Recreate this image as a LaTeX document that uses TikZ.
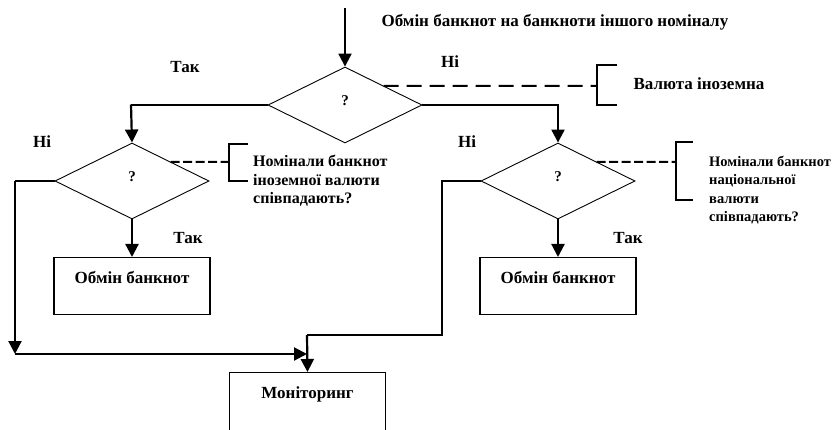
\documentclass[tikz,border=0pt]{standalone}
\usepackage{fontspec}
\setmainfont{Liberation Serif}
\usetikzlibrary{shapes.geometric}
\usetikzlibrary{arrows.meta}

\begin{document}
\begin{tikzpicture}[x=1pt, y=-1pt, font=\bfseries\fontsize{17}{18.5}\selectfont]

		\tikzset{
			question/.style={draw, diamond, line width=0.9pt, minimum width=154pt, minimum height=76pt, inner sep=0pt, text depth=8pt, font=\bfseries\fontsize{15}{18}\selectfont},
			action/.style={draw, line width=1.3pt, minimum width=156pt, inner xsep=0pt, inner ysep=0pt, text height=26pt},
			flow/.style={-{Triangle[length=13pt, width=13pt]}, line width=2.2pt},
			link/.style={line width=1.1pt},
			note/.style={line width=2pt, dash pattern=on 9pt off 3.5pt},
			bracket/.style={line width=1.1pt},
		}

		\useasboundingbox (0,0) rectangle (835,430);
		\clip (0,0) rectangle (835,430);

		\node [anchor=west] (title) at (378,22) {Обмін банкнот на банкноти іншого номіналу};
		\coordinate (start) at (345,8);

		\node [question] (q1) at (345,105) {?};
		\node [question] (q2) at (132,181) {?};
		\node [question] (q3) at (558,181) {?};

		\node [action, text depth=31pt, anchor=north] (swap1) at (132,257) {Обмін банкнот};
		\node [action, text depth=31pt, anchor=north] (swap2) at (558,257) {Обмін банкнот};
		\node [action, text depth=50pt, anchor=north] (monitor) at (307.5,372) {Моніторинг};

		\draw [flow] (start) -- (q1.north);

		% perevirka valyuty
		\draw [link] (q1.west) -- (131,105);
		\draw [flow] (131,104.5) -- (q2.north);
		\draw [link] (q1.east) -- (558,105);
		\draw [flow] (558,104.5) -- (q3.north);

		\draw [flow] (q2.south) -- (swap1.north);
		\draw [flow] (q3.south) -- (swap2.north);

		% do monitoryngu
		\coordinate (lcorner) at (15,181);
		\coordinate (ljoin) at (15,354);
		\coordinate (mjoin) at (307,354);
		\coordinate (rjoin) at (307,335);
		\draw [link] (q2.west) -- (lcorner);
		\draw [flow] (lcorner) -- (ljoin);
		\draw [flow] (15,354) -- (mjoin);
		\draw [link] (q3.west) -- (442,181) -- (442,335) -- (rjoin);
		\draw [flow] (rjoin) -- (monitor.north);

		% prymitky
		\coordinate (n1) at (597,86);
		\coordinate (n2) at (229,162);
		\coordinate (n3) at (676,162);
		\draw [note, dash pattern=on 15pt off 8pt] (q1.north east) -- (n1);
		\draw [note] (q2.north east) -- (n2);
		\draw [note] (q3.north east) -- (n3);
		\draw [bracket] (617,65) -- (597,65) -- (597,105) -- (617,105);
		\draw [bracket] (248,144) -- (229,144) -- (229,181) -- (248,181);
		\draw [bracket] (693,142) -- (676,142) -- (676,200) -- (693,200);

		\node [anchor=west] (valuta) at (630,84) {Валюта іноземна};
		\node [anchor=north west, align=left, inner sep=0pt, font=\bfseries\fontsize{16}{18.5}\selectfont] (nom1) at (253,155) {Номінали банкнот\\іноземної валюти\\співпадають?};
		\node [anchor=north west, align=left, inner sep=0pt, font=\bfseries\fontsize{14.5}{18.3}\selectfont] (nom2) at (709,156) {Номінали банкнот\\національної\\валюти\\співпадають?};

		\node at (185,67) {Так};
		\node at (450,62) {Ні};
		\node at (42,142) {Ні};
		\node at (467,142) {Ні};
		\node at (188,238) {Так};
		\node at (628,238) {Так};
\end{tikzpicture}
\end{document}
